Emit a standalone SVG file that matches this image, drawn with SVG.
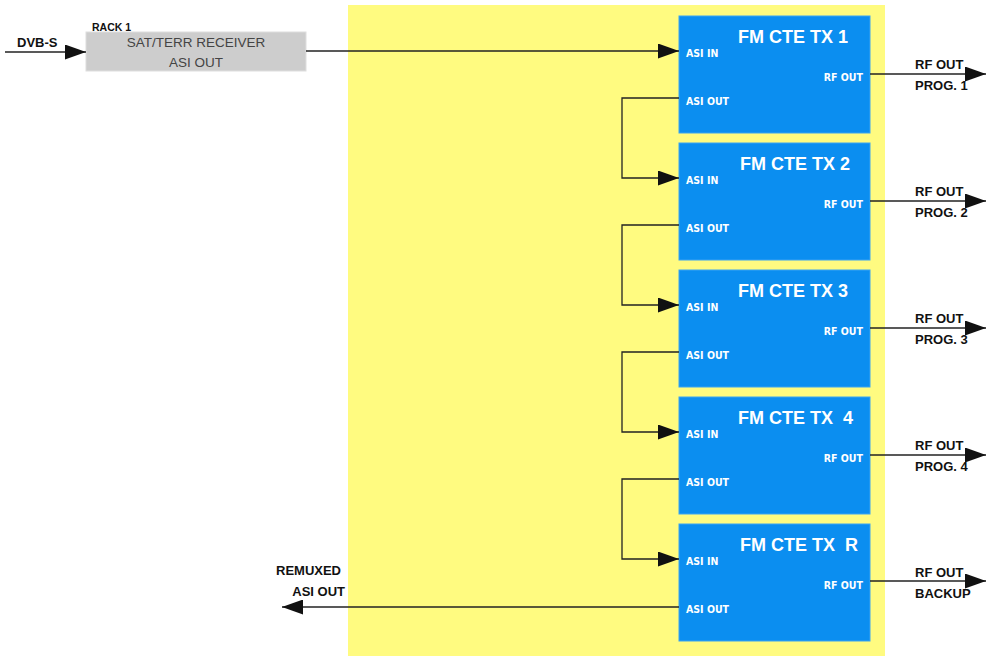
<svg xmlns="http://www.w3.org/2000/svg" width="986" height="656" viewBox="0 0 986 656">
<style>
.wire{fill:none;stroke:#222;stroke-width:1.3}
.blue{fill:#0b8ef0;stroke:#3aa3f2;stroke-width:1}
.title{font-family:"Liberation Sans",Arial,sans-serif;font-weight:bold;font-size:18px;fill:#fff;white-space:pre}
.port{font-family:"DejaVu Sans Condensed","Liberation Sans",sans-serif;font-weight:bold;font-size:10.5px;fill:#fff}
.lbl{font-family:"Liberation Sans",Arial,sans-serif;font-weight:bold;font-size:13px;fill:#111}
.gtxt{font-family:"Liberation Sans",Arial,sans-serif;font-size:13.5px;fill:#444;text-anchor:middle}
</style>
<defs>
<marker id="ah" markerWidth="21" markerHeight="15" refX="21" refY="7.5" orient="auto" markerUnits="userSpaceOnUse">
<path d="M0,0 L21,7.5 L0,15 Z" fill="#111"/>
</marker>
</defs>
<rect x="348" y="5" width="537" height="651" fill="#fffb80"/>

<g id="receiver">
<rect x="86" y="32" width="220" height="39" fill="#cdcdcd" stroke="#dedede"/>
<text class="gtxt" x="196" y="47">SAT/TERR RECEIVER</text>
<text class="gtxt" x="196" y="67">ASI OUT</text>
<text x="92" y="31" style="font-family:'Liberation Sans',Arial,sans-serif;font-weight:bold;font-size:10.5px;fill:#111">RACK 1</text>
</g>

<g id="tx1">
<rect class="blue" x="679" y="16" width="191" height="117"/>
<text class="title" x="738" y="43">FM CTE TX 1</text>
<text class="port" x="686" y="57">ASI IN</text>
<text class="port" x="863" y="81" text-anchor="end">RF OUT</text>
<text class="port" x="686" y="105">ASI OUT</text>
</g>
<g id="tx2">
<rect class="blue" x="679" y="143" width="191" height="117"/>
<text class="title" x="740" y="170">FM CTE TX 2</text>
<text class="port" x="686" y="184">ASI IN</text>
<text class="port" x="863" y="208" text-anchor="end">RF OUT</text>
<text class="port" x="686" y="232">ASI OUT</text>
</g>
<g id="tx3">
<rect class="blue" x="679" y="270" width="191" height="117"/>
<text class="title" x="738" y="297">FM CTE TX 3</text>
<text class="port" x="686" y="311">ASI IN</text>
<text class="port" x="863" y="335" text-anchor="end">RF OUT</text>
<text class="port" x="686" y="359">ASI OUT</text>
</g>
<g id="tx4">
<rect class="blue" x="679" y="397" width="191" height="117"/>
<text class="title" x="738" y="424">FM CTE TX  4</text>
<text class="port" x="686" y="438">ASI IN</text>
<text class="port" x="863" y="462" text-anchor="end">RF OUT</text>
<text class="port" x="686" y="486">ASI OUT</text>
</g>
<g id="txR">
<rect class="blue" x="679" y="524" width="191" height="117"/>
<text class="title" x="740" y="551">FM CTE TX  R</text>
<text class="port" x="686" y="565">ASI IN</text>
<text class="port" x="863" y="589" text-anchor="end">RF OUT</text>
<text class="port" x="686" y="613">ASI OUT</text>
</g>

<g id="labels">
<text class="lbl" x="17" y="47">DVB-S</text>
<text class="lbl" x="915" y="69">RF OUT</text>
<text class="lbl" x="915" y="90">PROG. 1</text>
<text class="lbl" x="915" y="196">RF OUT</text>
<text class="lbl" x="915" y="217">PROG. 2</text>
<text class="lbl" x="915" y="323">RF OUT</text>
<text class="lbl" x="915" y="344">PROG. 3</text>
<text class="lbl" x="915" y="450">RF OUT</text>
<text class="lbl" x="915" y="471">PROG. 4</text>
<text class="lbl" x="915" y="577">RF OUT</text>
<text class="lbl" x="915" y="598">BACKUP</text>
<text class="lbl" x="276" y="575">REMUXED</text>
<text class="lbl" x="345" y="596" text-anchor="end">ASI OUT</text>
</g>

<g id="connectors">
<path class="wire" d="M5,52 H86" marker-end="url(#ah)"/>
<path class="wire" d="M306,51 H679" marker-end="url(#ah)"/>
<path class="wire" d="M679,98 H622 V178 H679" marker-end="url(#ah)"/>
<path class="wire" d="M679,225 H622 V305 H679" marker-end="url(#ah)"/>
<path class="wire" d="M679,352 H622 V432 H679" marker-end="url(#ah)"/>
<path class="wire" d="M679,479 H622 V559 H679" marker-end="url(#ah)"/>
<path class="wire" d="M679,607 H282" marker-end="url(#ah)"/>
<path class="wire" d="M870,74 H986" marker-end="url(#ah)"/>
<path class="wire" d="M870,201 H986" marker-end="url(#ah)"/>
<path class="wire" d="M870,328 H986" marker-end="url(#ah)"/>
<path class="wire" d="M870,455 H986" marker-end="url(#ah)"/>
<path class="wire" d="M870,581 H986" marker-end="url(#ah)"/>
</g>
</svg>
